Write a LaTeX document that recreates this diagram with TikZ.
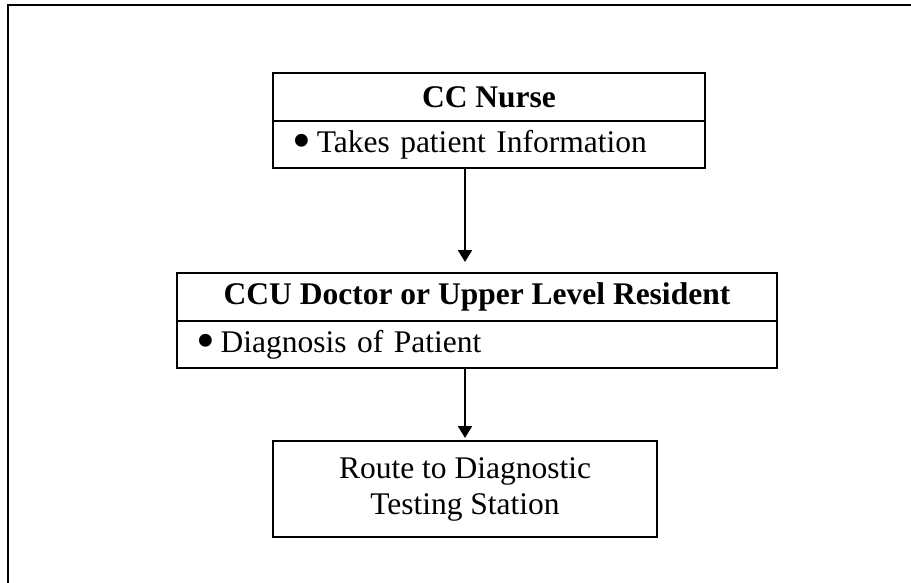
\documentclass[tikz,border=0pt]{standalone}
\usepackage{fontspec}
\setmainfont{Liberation Serif}
\usetikzlibrary{arrows.meta}
\newcommand{\bigbullet}{\raisebox{-6.5pt}{\scalebox{1.7}{\textbullet}}}
\begin{document}
\begin{tikzpicture}[x=1pt,y=-1pt,
  cell/.style={draw, line width=2pt, rectangle, inner sep=0pt,
    font=\fontsize{31.5}{36}\selectfont},
  titlecell/.style={cell, font=\fontsize{31.5}{36}\selectfont\bfseries},
  bulletcell/.style={cell, align=left, inner xsep=19pt},
  arr/.style={line width=2pt, -{Triangle[length=12pt,width=14pt]}}]
\useasboundingbox (0,0) rectangle (911,583);
\draw[line width=1.7pt] (8,583) -- (8,5) -- (911,5);

\node[titlecell, minimum width=432pt, minimum height=48pt] (b1a) at (489,97) {CC Nurse};
\node[bulletcell, text width=394pt, minimum height=47pt] (b1b) at (489,144.5)
  {\bigbullet\hspace{6pt}Takes patient Information};

\node[titlecell, minimum width=600pt, minimum height=48pt] (b2a) at (477,297)
  {CCU Doctor or Upper Level Resident};
\node[bulletcell, text width=562pt, minimum height=47pt] (b2b) at (477,344.5)
  {\bigbullet\hspace{6pt}Diagnosis of Patient};

\node[cell, align=center, minimum width=384pt, minimum height=96pt] (b3) at (465,489)
  {Route to Diagnostic\\Testing Station};

\draw[arr, shorten >=10pt] (b1b.south -| b3.north) -- (b2a.north -| b3.north);
\draw[arr, shorten >=2pt] (b2b.south -| b3.north) -- (b3.north);
\end{tikzpicture}
\end{document}
